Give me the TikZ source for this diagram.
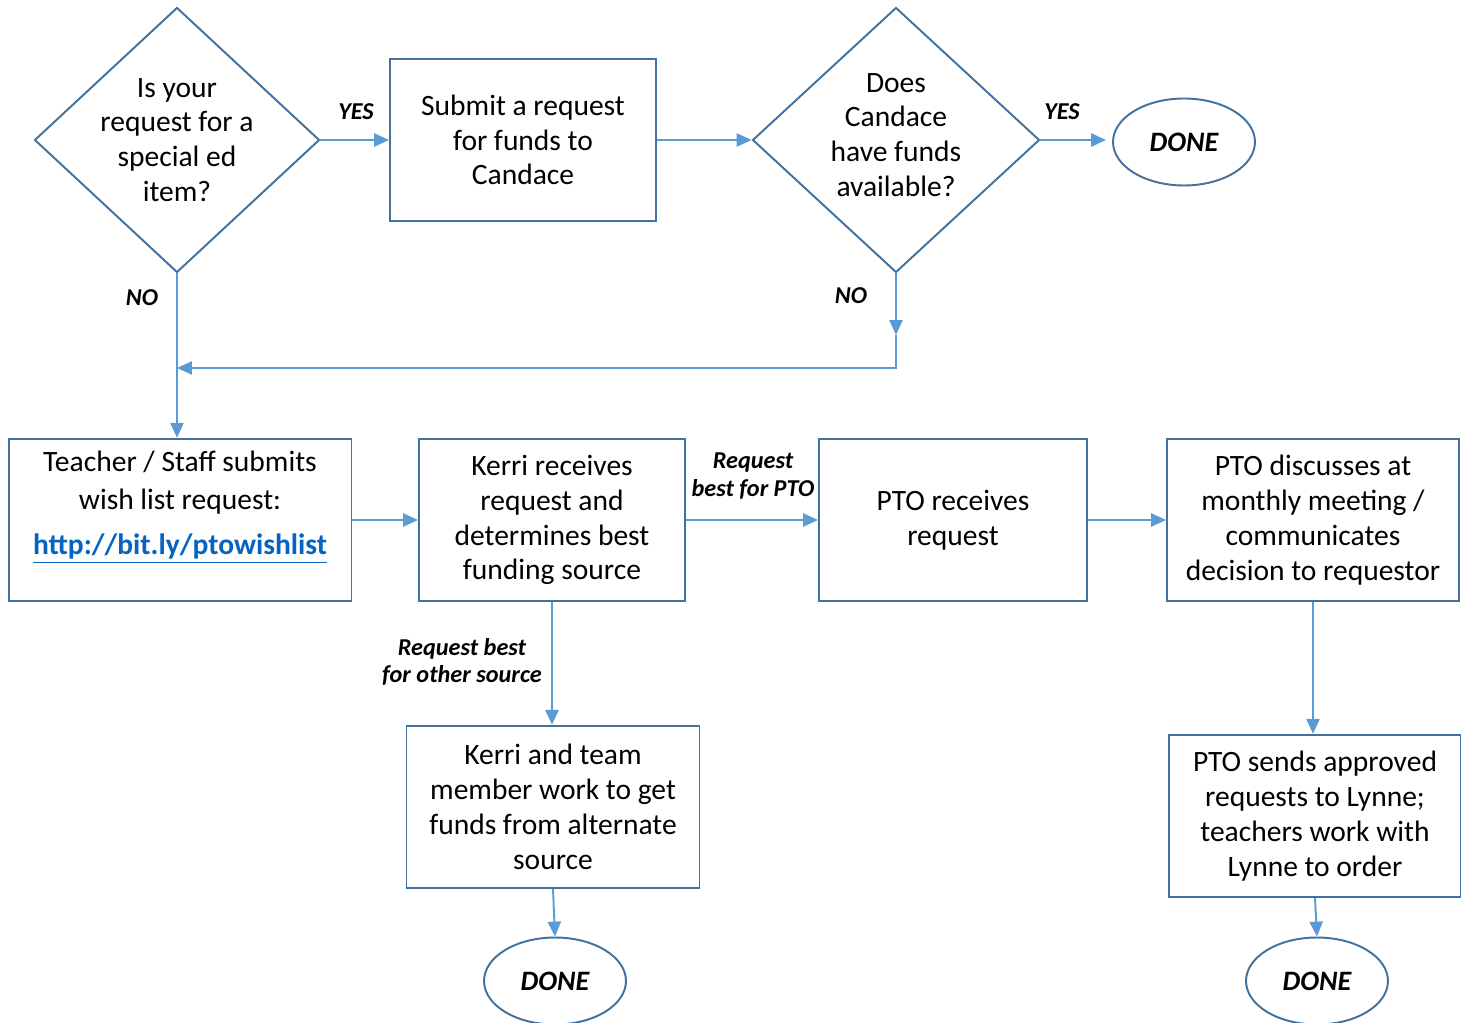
\documentclass[tikz,border=0pt]{standalone}
\usepackage{fontspec}
\setmainfont{Carlito}
\usepackage{xcolor}
\usepackage{tikz}
\usetikzlibrary{shapes.geometric,arrows.meta}

\definecolor{boxblue}{HTML}{41719C}
\definecolor{lineblue}{HTML}{5B9BD5}
\definecolor{linkblue}{HTML}{0563C1}

\begin{document}
\begin{tikzpicture}[x=0.02cm, y=-0.02cm, font=\fontsize{16.8}{19.8}\selectfont,
    box/.style={draw=boxblue, line width=1.1pt, minimum width=#1, minimum height=3.25cm,
      inner sep=0pt, align=center},
    decision/.style={diamond, draw=boxblue, line width=1.1pt, minimum width=#1,
      minimum height=5.3cm, inner sep=0pt},
    endbox/.style={ellipse, draw=boxblue, line width=1.1pt, minimum width=2.84cm,
      minimum height=1.74cm, inner sep=0pt,
      font=\fontsize{16}{19.8}\selectfont\bfseries\itshape},
    answer/.style={align=center, font=\fontsize{13.8}{15.5}\selectfont\bfseries\itshape},
    flow/.style={draw=lineblue, line width=1.1pt, -{Triangle[length=8.5pt,width=7.5pt]}}]
  \useasboundingbox (0,0) rectangle (1461,1023);

  % first row: the two questions
  \node[decision=5.7cm] (q1) at (177,140) {};
  \node[align=center] (q1txt) at (177,140) {Is your\\request for a\\special ed\\item?};
  \node[box=5.32cm] (submit) at (523,140) {Submit a request\\for funds to\\Candace};
  \node[decision=5.74cm] (q2) at (896,140) {};
  \node[align=center] (q2txt) at (896,135) {Does\\Candace\\have funds\\available?};
  \node[endbox] (done1) at (1184,142) {DONE};

  % second row
  \node[box=6.86cm] (teacher) at (180,520) {};
  \node[align=center, font=\fontsize{16.8}{21.5}\selectfont] (teachertxt) at (180,507)
    {Teacher / Staff submits\\wish list request:\\[4.5pt]
     \textcolor{linkblue}{\bfseries\underline{http://bit.ly/ptowishlist}}};
  \node[box=5.32cm] (kerri) at (552,520) {Kerri receives\\request and\\determines best\\funding source};
  \node[box=5.36cm] (pto) at (953,520) {PTO receives\\request};
  \node[box=5.84cm] (discuss) at (1313,520) {PTO discusses at\\monthly meeting /\\communicates\\decision to requestor};

  % third row
  \node[box=5.86cm] (team) at (553,807) {Kerri and team\\member work to get\\funds from alternate\\source};
  \node[box=5.84cm] (sends) at (1315,816) {PTO sends approved\\requests to Lynne;\\teachers work with\\Lynne to order};
  \node[endbox] (done2) at (555,981) {DONE};
  \node[endbox] (done3) at (1317,981) {DONE};

  % answers
  \node[answer] (yes1) at (356,112) {YES};
  \node[answer] (yes2) at (1062,112) {YES};
  \node[answer] (no1) at (142,298) {NO};
  \node[answer] (no2) at (851,296) {NO};
  \node[answer] (ptopath) at (753,476) {Request\\best for PTO};
  \node[answer] (otherpath) at (462,662) {Request best\\for other source};

  \coordinate (nostop) at (896,335);
  \coordinate (merge) at (177,368);

  \draw[flow] (q1.east) -- (submit.west);
  \draw[flow] (submit.east) -- (q2.west);
  \draw[flow, shorten >=0.12cm] (q2.east) -- (q2.east -| done1.west);
  \draw[flow] (q1.south) -- (q1.south |- teacher.north);
  \draw[flow] (q2.south) -- (nostop);
  \draw[flow] (nostop) |- (merge);
  \draw[flow] (teacher.east) -- (kerri.west);
  \draw[flow] (kerri.east) -- (pto.west);
  \draw[flow] (pto.east) -- (discuss.west);
  \draw[flow] (kerri.south) -- (kerri.south |- team.north);
  \draw[flow] (team.south) -- (done2.north);
  \draw[flow] (discuss.south) -- (discuss.south |- sends.north);
  \draw[flow] (sends.south) -- (done3.north);
\end{tikzpicture}
\end{document}
